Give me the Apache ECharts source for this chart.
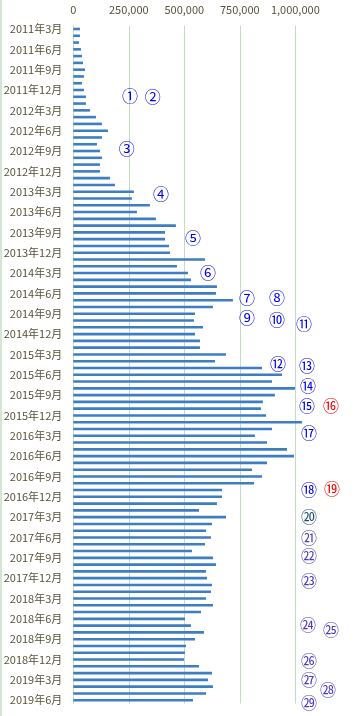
<!DOCTYPE html>
<html><head><meta charset="utf-8">
<script src="https://cdn.jsdelivr.net/npm/echarts@6/dist/echarts.min.js"></script>
<style>html,body{margin:0;padding:0;background:#fff}#c{width:358px;height:716px}</style>
</head><body><div id="c"></div>
<script>
// Categories: monthly, 2011年3月 .. 2019年6月
var categories = [];
for (var y = 2011; y <= 2019; y++) {
  for (var m = 1; m <= 12; m++) {
    if (y === 2011 && m < 3) continue;
    if (y === 2019 && m > 6) continue;
    categories.push(y + '年' + m + '月');
  }
}
var values = [
  30000, 30000, 25500, 34500, 39000, 43500, 52500, 48000, 39000, 48000,
  57000, 57000, 75000, 102000, 129000, 156000, 129000, 106500, 120000, 129000,
  120000, 120000, 165000, 187500, 273000, 264000, 345000, 286500, 372000, 462000,
  413000, 413000, 431000, 435500, 593000, 467000, 516500, 530000, 647000, 642500,
  719000, 629000, 548000, 543500, 584000, 548000, 570500, 570500, 687500, 638000,
  850000, 940000, 895000, 998500, 908000, 854000, 845000, 868000, 1030000, 895000,
  818000, 872500, 962500, 994000, 872500, 805000, 850000, 814000, 669700, 669700,
  647000, 566000, 687700, 624600, 597600, 620000, 593000, 534500, 629000, 642600,
  597600, 602100, 624600, 620000, 597600, 629100, 575100, 503000, 530000, 588600,
  548000, 507500, 503000, 498500, 566000, 624600, 606600, 629100, 597600, 539000
];
var xTicks = [0, 250000, 500000, 750000, 1000000];

// Annotations (circled numbers): text, x value, category position, colour
var annoText  = ['①','②','③','④','⑤','⑥','⑦','⑧','⑨','⑩','⑪','⑫','⑬','⑭','⑮','⑯','⑰','⑱','⑲','⑳','㉑','㉒','㉓','㉔','㉕','㉖','㉗','㉘','㉙'];
var annoX     = [255000,358000,241000,395000,539000,607000,782000,918000,782000,918000,1039000,922000,1053000,1057000,1053000,1161000,1062000,1062000,1165000,1062000,1062000,1062000,1062000,1057000,1161000,1062000,1062000,1147000,1062000];
var annoY     = [9.9,10.0,17.7,24.3,30.8,36.0,39.7,39.7,42.6,42.9,43.5,49.4,49.7,52.7,55.6,55.6,59.6,68.0,67.8,72.0,75.1,77.7,81.4,87.9,88.6,93.2,96.0,97.5,99.4];
var annoColor = ['#0000ee','#0000ee','#0000ee','#0000ee','#0000ee','#0000ee','#0000ee','#0000ee','#0000ee','#0000ee','#0000ee','#0000ee','#0000ee','#0000ee','#0000ee','#ee0000','#0000ee','#0000ee','#ee0000','#1f4e6e','#4b3cc0','#4b3cc0','#4b3cc0','#4b3cc0','#4b3cc0','#4b3cc0','#4b3cc0','#4b3cc0','#4b3cc0'];

var gridColor = '#c4dcc4';
var textColor = '#57533c';
var font = '"Noto Sans CJK JP", "Noto Sans", sans-serif';

var chart = echarts.init(document.getElementById('c'), null, {renderer: 'canvas'});
chart.setOption({
  animation: false,
  grid: {left: 73.3, top: 25.6, height: 678, width: 275.3, containLabel: false},
  xAxis: {
    type: 'value', position: 'top', min: 0, max: 1240000, interval: 250000,
    axisLine: {show: false}, axisTick: {show: false},
    splitLine: {show: true, showMaxLine: false, lineStyle: {color: gridColor, width: 1}},
    axisLabel: {
      color: textColor, fontSize: 11, fontFamily: font, margin: 10, showMaxLabel: false,
      formatter: function (v) { return xTicks.indexOf(v) >= 0 ? v.toLocaleString('en-US') : ''; }
    }
  },
  yAxis: {
    type: 'category', data: categories, inverse: true,
    axisLine: {show: true, lineStyle: {color: gridColor, width: 1}},
    axisTick: {show: false},
    axisLabel: {color: textColor, fontSize: 11, fontFamily: font, interval: 2, margin: 11, padding: [4, 0, 0, 0]}
  },
  series: [{
    type: 'bar', data: values, barWidth: 2.6,
    itemStyle: {color: '#3d7ec2'}
  }]
});

var g = [{type: 'line', shape: {x1: 1, y1: 0, x2: 1, y2: 716}, style: {stroke: gridColor, lineWidth: 1.5}, silent: true}];
var p0 = chart.convertToPixel({yAxisIndex: 0}, 0);
var p1 = chart.convertToPixel({yAxisIndex: 0}, 1);
for (var i = 0; i < annoText.length; i++) {
  var px = chart.convertToPixel({xAxisIndex: 0}, annoX[i]);
  var py = p0 + annoY[i] * (p1 - p0);
  g.push({
    type: 'text', x: px, y: py, silent: true,
    style: {text: annoText[i], fill: annoColor[i], font: '16px ' + font, align: 'center', verticalAlign: 'middle'}
  });
}
chart.setOption({graphic: g});
</script></body></html>
